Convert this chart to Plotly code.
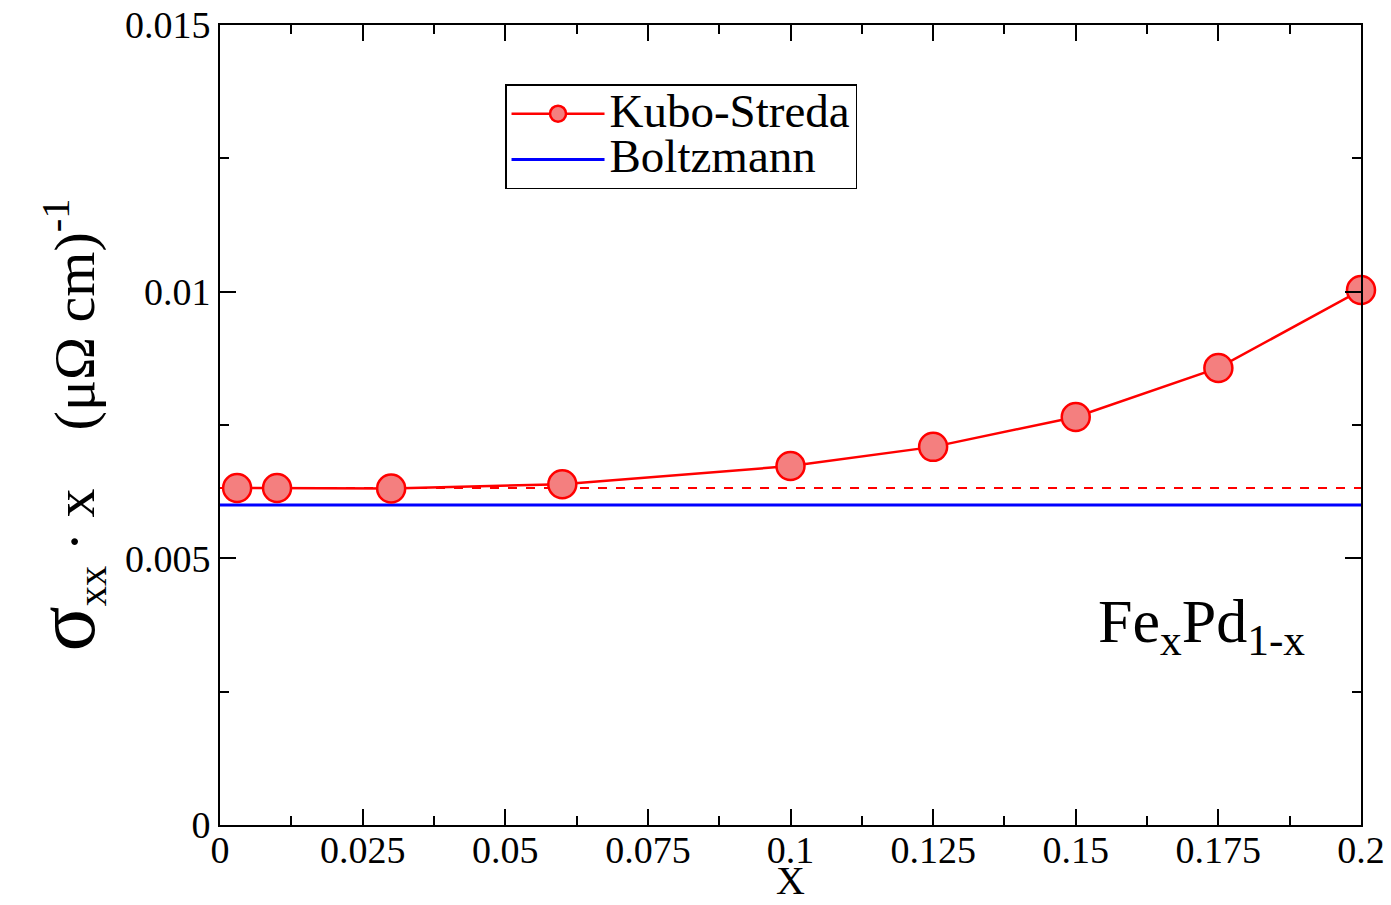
import plotly.graph_objects as go

# Data
x_kubo = [0.003, 0.01, 0.03, 0.06, 0.1, 0.125, 0.15, 0.175, 0.2]
y_kubo = [0.00632, 0.00632, 0.00631, 0.00639, 0.00673, 0.00709, 0.00765, 0.00857, 0.01003]
x_range_line = [0.0, 0.2]
y_dashed = [0.00632, 0.00632]
y_boltz = [0.0060, 0.0060]

x_tickvals = [0, 0.025, 0.05, 0.075, 0.1, 0.125, 0.15, 0.175, 0.2]
x_ticktext = ["0", "0.025", "0.05", "0.075", "0.1", "0.125", "0.15", "0.175", "0.2"]
y_tickvals = [0, 0.005, 0.01, 0.015]
y_ticktext = ["0", "0.005", "0.01", "0.015"]

FONT = "Liberation Serif, Times New Roman, serif"

fig = go.Figure()

fig.add_trace(go.Scatter(
    x=x_range_line, y=y_dashed, mode="lines",
    line=dict(color="red", width=2, dash="dash"),
    showlegend=False, hoverinfo="skip",
))
fig.add_trace(go.Scatter(
    x=x_range_line, y=y_boltz, mode="lines",
    line=dict(color="blue", width=3),
    name="<span style='font-size:47px'>Boltzmann</span>",
))
fig.add_trace(go.Scatter(
    x=x_kubo, y=y_kubo, mode="lines+markers",
    line=dict(color="red", width=2.5),
    marker=dict(size=28, color="#f47f7f", line=dict(color="red", width=2.5)),
    name="<span style='font-size:47px'>Kubo-Streda</span>",
    cliponaxis=False,
))

axis_common = dict(
    showline=True, linecolor="black", linewidth=2, mirror="ticks",
    ticks="inside", ticklen=16, tickwidth=2, tickcolor="black",
    showgrid=False, zeroline=False, automargin=False,
    tickfont=dict(family=FONT, size=38, color="black"),
)

fig.update_xaxes(
    range=[0, 0.2], tickmode="array", tickvals=x_tickvals, ticktext=x_ticktext,
    minor=dict(ticks="inside", ticklen=9, tickwidth=2, tickcolor="black", dtick=0.0125, tick0=0, showgrid=False),
    ticklabelstandoff=-10,
    **axis_common,
)
fig.update_yaxes(
    range=[0, 0.015], tickmode="array", tickvals=y_tickvals, ticktext=y_ticktext,
    minor=dict(ticks="inside", ticklen=9, tickwidth=2, tickcolor="black", dtick=0.0025, tick0=0, showgrid=False),
    title=dict(text="<span style='font-size:84px'>σ</span><sub>xx</sub> · x&nbsp;&nbsp;&nbsp;&nbsp;(μΩ cm)<sup>-1</sup>",
               font=dict(family=FONT, size=58, color="black"), standoff=12),
    **axis_common,
)

# x-axis title
fig.add_annotation(
    x=0.5, y=-0.1, xref="paper", yref="paper", showarrow=False,
    xanchor="center", yanchor="bottom",
    text="X", font=dict(family=FONT, size=40, color="black"),
)

fig.add_annotation(
    x=0.172, y=0.00375, xref="x", yref="y", showarrow=False,
    text="Fe<sub>x</sub>Pd<sub>1-x</sub>",
    font=dict(family=FONT, size=62, color="black"),
)

fig.update_layout(
    width=1391, height=905,
    margin=dict(l=220, r=30, t=25, b=80),
    paper_bgcolor="white", plot_bgcolor="white",
    legend=dict(
        x=0.2498, y=0.926, xanchor="left", yanchor="top",
        bgcolor="white", bordercolor="black", borderwidth=1.5,
        font=dict(family=FONT, size=33, color="black"),
        traceorder="reversed", itemwidth=93,
        tracegroupgap=0,
    ),
)

fig.write_html("out.html")
